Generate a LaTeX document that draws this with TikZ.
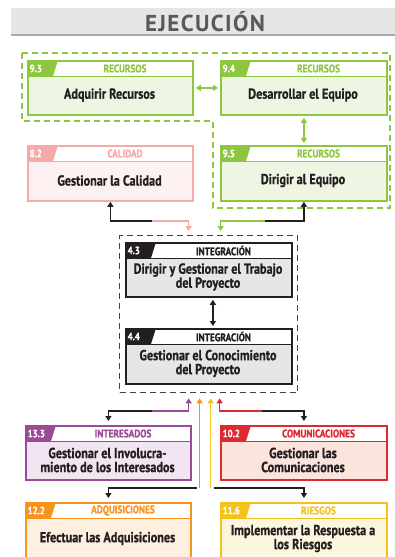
\documentclass[tikz,border=0pt]{standalone}
\usepackage{fontspec}
\setmainfont{PT Sans}[FakeStretch=0.84,BoldFeatures={FakeBold=0.8}]
\newfontfamily\titlefont{PT Sans}[LetterSpace=6]
\usetikzlibrary{arrows.meta,calc}
\definecolor{grn}{HTML}{8DC63F}\definecolor{grnF}{HTML}{EEF5E3}
\definecolor{pnk}{HTML}{F7A8A8}\definecolor{pnkF}{HTML}{FEF1F1}
\definecolor{blk}{HTML}{231F20}\definecolor{blkF}{HTML}{E6E6E7}
\definecolor{pur}{HTML}{9B4A97}\definecolor{purF}{HTML}{F0E5F0}
\definecolor{rd}{HTML}{DD2A30}\definecolor{rdF}{HTML}{FAE4DC}
\definecolor{org}{HTML}{F7941D}\definecolor{orgF}{HTML}{FEF0E0}
\definecolor{ylw}{HTML}{F2C31A}\definecolor{ylwF}{HTML}{FDF6DE}
\definecolor{titleC}{HTML}{58595B}
\definecolor{bandC}{HTML}{E6E6E6}
\definecolor{bandL}{HTML}{A7A9AC}
\tikzset{
  tagtxt/.style={text=white,font=\bfseries\fontsize{10.5}{10.5}\selectfont,inner sep=1pt},
  areatxt/.style={font=\bfseries\fontsize{11}{11}\selectfont,inner sep=0pt},
  maintxt/.style={text=blk,font=\bfseries\fontsize{14.5}{14}\selectfont,align=center,inner sep=0pt},
  tip/.style={-{Triangle[width=6pt,length=5pt]}},
  dtip/.style={{Triangle[width=6pt,length=5pt]}-{Triangle[width=6pt,length=5pt]}},
  conn/.style={line width=1.2pt},
}
\newcommand\pbox[9]{%
  \fill[#6F] (#2,#3) rectangle (#4,#5);
  \fill[white] (#2,#3) rectangle (#4,#3+16);
  \draw[#6,line width=0.9pt] (#2,#3+16) -- (#4,#3+16);
  \fill[#6] (#2,#3) -- (#2+31,#3) -- (#2+26,#3+16) -- (#2,#3+16) -- cycle;
  \node[tagtxt,anchor=west] at (#2+1.5,#3+8.5) {#7};
  \node[areatxt,text=#6] at ({(#2+31+#4)/2},#3+8.5) {#8};
  \node[maintxt] at ({(#2+#4)/2},{(#3+16+#5)/2}) {#9};
  \node[draw=#6,line width=1.8pt,inner sep=0pt,minimum width={#4-#2},minimum height={#5-#3},anchor=north west] (#1) at (#2,#3) {};
}
\begin{document}
\begin{tikzpicture}[x=1pt,y=-1pt]
\useasboundingbox (0,0) rectangle (395,557);
\clip (0,0) rectangle (395,557);
\fill[white] (0,0) rectangle (395,557);
% title band
\fill[bandC] (11,8) rectangle (396,35);
\draw[bandL,line width=2pt] (11,35) -- (396,35);
\node[text=titleC,font=\titlefont\bfseries\fontsize{23}{23}\selectfont] (title) at (205,22) {EJECUCIÓN};
% green dashed group
\draw[grn,line width=1.5pt,dash pattern=on 6pt off 4pt] (22,53) -- (390,53) -- (390,208) -- (213,208) -- (213,121) -- (22,121) -- cycle;
% integration dashed group
\node[draw=blk!85,line width=1.3pt,dash pattern=on 6pt off 4pt,inner sep=0pt,minimum width=178,minimum height=157,anchor=north west] (intg) at (119,235) {};
% boxes
\pbox{a93}{27}{60}{192}{114}{grn}{9.3}{RECURSOS}{Adquirir Recursos}
\pbox{a94}{220}{60}{386}{114}{grn}{9.4}{RECURSOS}{Desarrollar el Equipo}
\pbox{a82}{27}{145}{192}{200}{pnk}{8.2}{CALIDAD}{Gestionar la Calidad}
\pbox{a95}{220}{145}{386}{200}{grn}{9.5}{RECURSOS}{Dirigir al Equipo}
\pbox{a43}{125}{242}{291}{296}{blk}{4.3}{INTEGRACIÓN}{Dirigir y Gestionar el Trabajo\\del Proyecto}
\pbox{a44}{125}{328}{291}{383}{blk}{4.4}{INTEGRACIÓN}{Gestionar el Conocimiento\\del Proyecto}
\pbox{a133}{25}{425}{190}{479}{pur}{13.3}{INTERESADOS}{Gestionar el Involucra-\\miento de los Interesados}
\pbox{a102}{220}{425}{386}{479}{rd}{10.2}{COMUNICACIONES}{Gestionar las\\Comunicaciones}
\pbox{a122}{25}{502}{190}{559}{org}{12.2}{ADQUISICIONES}{Efectuar las Adquisiciones}
\pbox{a116}{220}{502}{386}{559}{ylw}{11.6}{RIESGOS}{Implementar la Respuesta a\\los Riesgos}
% connectors
\draw[grn,conn,dtip,shorten <=2pt,shorten >=2pt] (a93.east) -- (a94.west);
\draw[grn,conn,dtip,shorten <=2pt,shorten >=2pt] (a94.south) -- (a95.north);
\draw[blk,conn,dtip,shorten <=2pt,shorten >=2pt] ([xshift=4pt]a43.south) -- ([xshift=4pt]a44.north);
% top links
\coordinate (c1) at (152,221);
\coordinate (c2) at (265,221);
\draw[blk,conn,tip] (c1) -| (a82.south);
\draw[pnk,conn,tip,shorten >=4pt] (c1) -| ([xshift=-20pt]intg.north);
\draw[blk,conn,tip] (c2) -| (a95.south);
\draw[grn,conn,tip,shorten >=4pt] (c2) -| ([xshift=12pt]intg.north);
% bottom links
\coordinate (c3) at (152,411);
\coordinate (c4) at (262,411);
\draw[blk,conn,tip,shorten >=4pt] (c3) -| (a133.north);
\draw[pur,conn,tip,shorten >=5pt] (c3) -| ([xshift=-20pt]intg.south);
\draw[blk,conn,tip,shorten >=4pt] (c4) -| (a102.north);
\draw[rd,conn,tip,shorten >=5pt] (c4) -| ([xshift=11pt]intg.south);
\coordinate (c5) at ([xshift=-9pt]intg.south |- 0,488);
\coordinate (c6) at ([xshift=2pt]intg.south |- 0,488);
\draw[blk,conn,tip,shorten >=4pt] ([xshift=-3pt]c5) -| (a122.north);
\draw[org,conn,tip,shorten >=5pt] (c5) -- ([xshift=-9pt]intg.south);
\draw[blk,conn,tip,shorten >=4pt] ([xshift=3pt]c6) -| (a116.north);
\draw[ylw,conn,tip,shorten >=5pt] (c6) -- ([xshift=2pt]intg.south);
\end{tikzpicture}
\end{document}
